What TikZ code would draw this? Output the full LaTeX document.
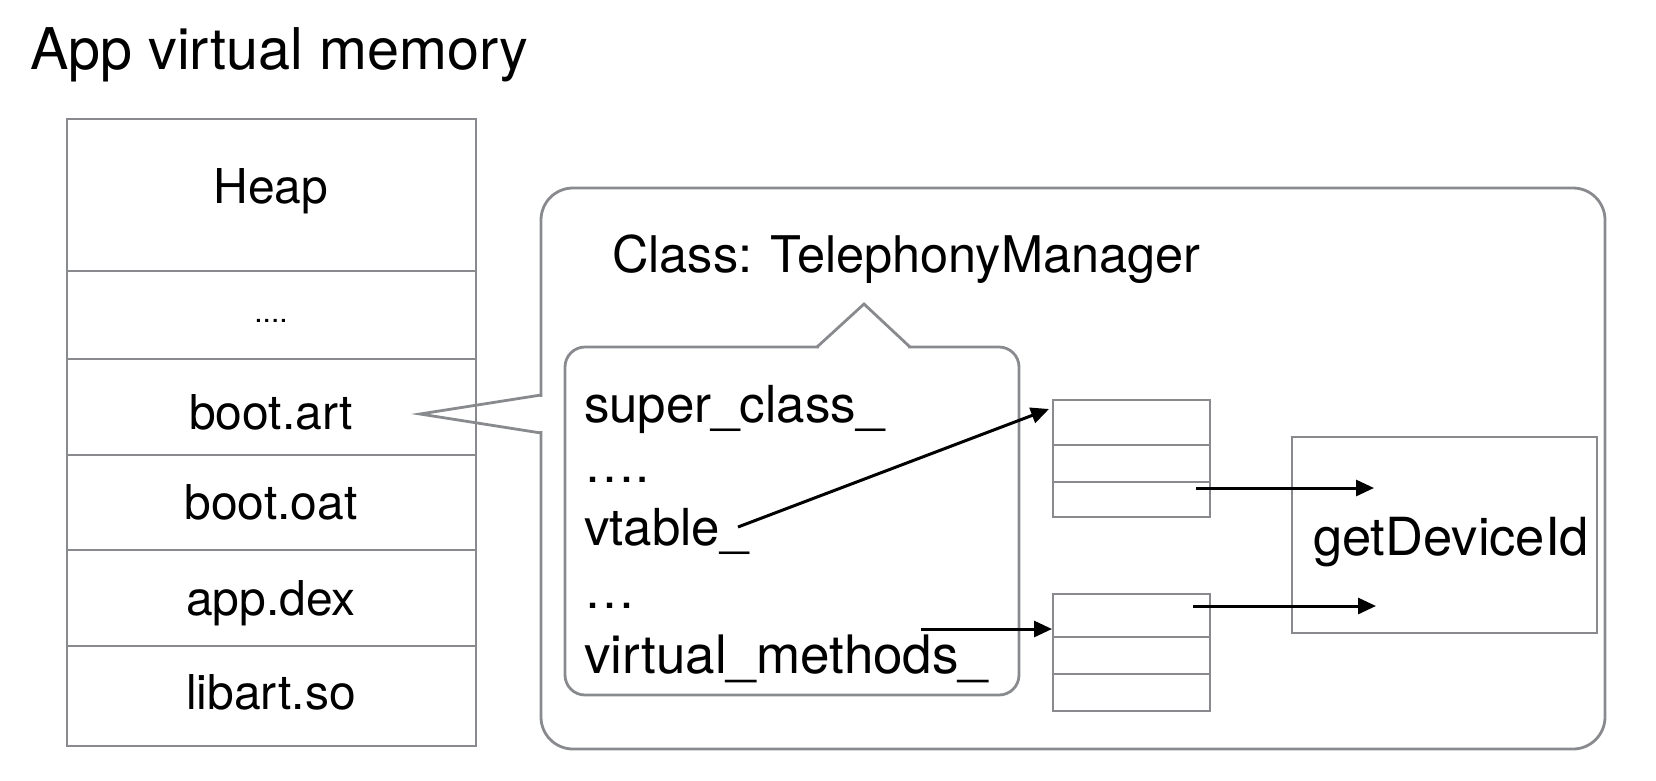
\documentclass[tikz,border=0pt]{standalone}
\usepackage{fontspec}
\setmainfont{TeX Gyre Heros}
\usetikzlibrary{arrows.meta}
\definecolor{lgray}{RGB}{136,138,141}
\begin{document}
\begin{tikzpicture}[x=1pt,y=-1pt,
  every node/.style={inner sep=0pt, outer sep=0pt},
  cell/.style={draw=lgray, line width=2.2pt, minimum width=409pt, anchor=north west},
  lbl/.style={font=\fontsize{48}{56}\selectfont, anchor=base},
  itxt/.style={font=\fontsize{51}{58}\selectfont, anchor=base west},
  gline/.style={draw=lgray, line width=2.8pt, line join=miter},
  arr/.style={draw=black, line width=3pt, -{Triangle[length=18pt,width=16pt]}},
  slot/.style={draw=lgray, line width=2.6pt, minimum width=157pt, minimum height=117pt, anchor=north west},
  div/.style={draw=lgray, line width=2.1pt}
]
\useasboundingbox (0,0) rectangle (1656,780);
\node[font=\fontsize{57.5}{66}\selectfont, anchor=base west] (title) at (30,69) {App virtual memory};

% memory column
\node[cell, minimum height=152pt] (heap) at (67,119) {};
\node[cell, minimum height=88pt]  (gap)  at (67,271) {};
\node[cell, minimum height=96pt]  (art)  at (67,359) {};
\node[cell, minimum height=95pt]  (oat)  at (67,455) {};
\node[cell, minimum height=96pt]  (dex)  at (67,550) {};
\node[cell, minimum height=100pt] (so)   at (67,646) {};
\node[lbl] (heapt) at (271,203) {Heap};
\node[lbl, font=\fontsize{30}{36}\selectfont] (gapt) at (271,322) {....};
\node[lbl] (artt) at (271,429) {boot.art};
\node[lbl] (oatt) at (271,519) {boot.oat};
\node[lbl] (dext) at (271,615) {app.dex};
\node[lbl] (sot)  at (271,709) {libart.so};

% class box
\node[draw=lgray, line width=2.8pt, rounded corners=32pt, minimum width=1064pt, minimum height=561pt, anchor=north west] (cls) at (541,188) {};
\fill[white] (538,397) rectangle (545,431);
\draw[gline] (541,395) -- (420,414) -- (541,433);
\node[itxt, font=\fontsize{50.5}{58}\selectfont] (clst) at (612,272) {Class: TelephonyManager};

% fields box
\node[draw=lgray, line width=2.8pt, rounded corners=20pt, minimum width=454pt, minimum height=348pt, anchor=north west] (fields) at (565,347) {};
\fill[white] (819,344) rectangle (908,350);
\draw[gline] (817,347) -- (864,304) -- (910,347);
\node[itxt] (f1) at (584,422) {super\_class\_};
\node[itxt] (f2) at (584,482) {….};
\node[itxt] (f3) at (584,545) {vtable\_};
\node[itxt] (f4) at (584,608) {…};
\node[itxt, font=\fontsize{53}{58}\selectfont] (f5) at (584,673) {virtual\_methods\_};

% vtable slots
\node[slot] (vt) at (1053,400) {};
\draw[div] (1053,445) -- (1210,445);
\draw[div] (1053,482) -- (1210,482);
\node[slot] (vm) at (1053,594) {};
\draw[div] (1053,637) -- (1210,637);
\draw[div] (1053,674) -- (1210,674);

% method
\node[draw=lgray, line width=2.6pt, minimum width=305pt, minimum height=196pt, anchor=north west] (gdi) at (1292,437) {};
\node[itxt, font=\fontsize{52.5}{58}\selectfont] (gdit) at (1313,555) {getDeviceId};

% arrows
\coordinate (a1s) at (738,527);
\coordinate (a1e) at (1049,409);
\coordinate (a2s) at (921,629);
\coordinate (a2e) at (1052,629);
\coordinate (a3s) at (1196,488);
\coordinate (a3e) at (1374,488);
\coordinate (a4s) at (1193,606);
\coordinate (a4e) at (1376,606);
\draw[arr] (a1s) -- (a1e);
\draw[arr] (a2s) -- (a2e);
\draw[arr] (a3s) -- (a3e);
\draw[arr] (a4s) -- (a4e);
\end{tikzpicture}
\end{document}
